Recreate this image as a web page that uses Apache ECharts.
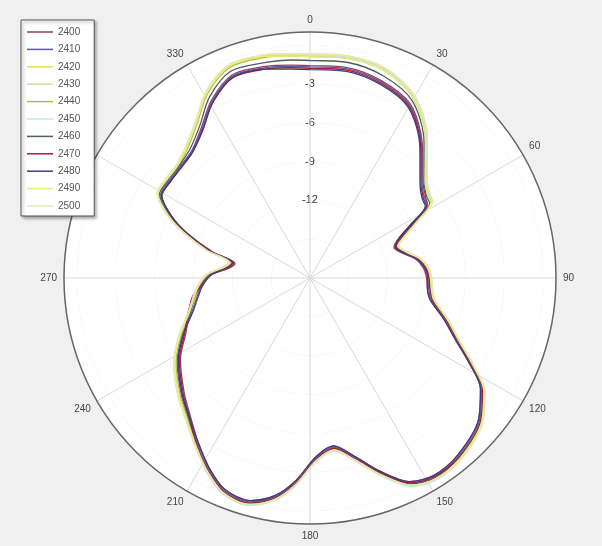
<!DOCTYPE html>
<html><head><meta charset="utf-8">
<script src="https://cdn.jsdelivr.net/npm/echarts@6/dist/echarts.min.js"></script>
<style>html,body{margin:0;padding:0;background:#f0f0f0}#c{width:602px;height:546px}</style>
</head><body><div id="c"></div>
<script>
const ANGLES = [0,10,20,30,40,50,55,58,62,66,70,75,80,85,90,95,100,107,113,118,123,130,140,148,154,160,166,172,178,184,189,195,202,208,214,221,228,238,246,254,260,266,272,277,281,285,290,294,299,305,310,317,324,331,339,348,355,360];
const S2400 = [-1.6,-1.5,-1.8,-2.5,-4.5,-6.6,-7.1,-7.3,-9.1,-10.5,-11.1,-10.6,-9.7,-9.2,-9.0,-8.9,-8.6,-7.2,-5.8,-4.1,-2.3,-1.0,-0.2,0.0,-0.5,-2.1,-3.8,-4.9,-4.2,-2.3,-1.0,-0.2,-0.4,-1.4,-2.6,-3.9,-4.9,-6.2,-7.5,-8.3,-8.7,-9.5,-10.4,-11.7,-12.1,-10.2,-7.9,-6.3,-4.9,-4.9,-4.8,-4.6,-3.7,-2.3,-1.2,-1.3,-1.5,-1.6];
const S2410 = [-1.7,-1.6,-1.9,-2.6,-4.6,-6.7,-7.2,-7.3,-9.0,-10.4,-11.0,-10.5,-9.6,-9.1,-8.9,-8.8,-8.5,-7.1,-5.7,-4.0,-2.2,-0.9,-0.1,0.1,-0.4,-2.0,-3.7,-4.8,-4.1,-2.2,-0.9,-0.1,-0.3,-1.3,-2.5,-3.7,-4.6,-5.9,-7.2,-8.5,-9.1,-9.6,-10.3,-11.5,-11.9,-10.0,-7.8,-6.2,-4.8,-4.8,-4.8,-4.6,-3.8,-2.4,-1.3,-1.4,-1.6,-1.7];
const S2420 = [-0.8,-0.7,-0.9,-1.9,-4.0,-6.3,-6.8,-6.9,-8.6,-10.0,-10.8,-10.3,-9.4,-8.9,-8.7,-8.6,-8.3,-6.9,-5.5,-3.8,-2.0,-0.7,0.1,0.3,-0.2,-1.8,-3.5,-4.6,-3.9,-2.0,-0.7,0.1,-0.1,-1.1,-2.3,-3.5,-4.4,-5.7,-7.0,-8.3,-8.9,-9.4,-10.1,-11.3,-11.7,-9.8,-7.6,-6.0,-4.6,-4.6,-4.6,-4.1,-3.1,-1.6,-0.5,-0.5,-0.7,-0.8];
const S2430 = [-0.7,-0.6,-0.8,-1.8,-3.9,-6.2,-6.7,-6.9,-8.7,-10.1,-10.9,-10.4,-9.5,-9.0,-8.8,-8.7,-8.4,-7.0,-5.6,-3.9,-2.1,-0.8,0.0,0.2,-0.3,-1.9,-3.6,-4.7,-4.0,-2.1,-0.8,0.0,-0.2,-1.2,-2.4,-3.5,-4.3,-5.6,-6.9,-8.2,-8.8,-9.3,-10.0,-11.2,-11.6,-9.7,-7.5,-5.9,-4.5,-4.5,-4.5,-4.0,-3.0,-1.5,-0.4,-0.4,-0.6,-0.7];
const S2440 = [-0.9,-0.8,-1.0,-2.0,-4.1,-6.4,-6.9,-7.0,-8.7,-10.1,-10.8,-10.3,-9.4,-8.9,-8.7,-8.6,-8.3,-6.9,-5.5,-3.8,-2.0,-0.7,0.1,0.3,-0.2,-1.8,-3.5,-4.6,-3.9,-2.0,-0.7,0.1,-0.1,-1.1,-2.3,-3.6,-4.5,-5.8,-7.1,-8.4,-9.0,-9.5,-10.2,-11.4,-11.8,-9.9,-7.7,-6.1,-4.7,-4.7,-4.7,-4.2,-3.2,-1.7,-0.6,-0.6,-0.8,-0.9];
const S2450 = [-0.8,-0.7,-0.9,-1.9,-4.0,-6.3,-6.8,-6.9,-8.5,-9.9,-10.7,-10.2,-9.3,-8.8,-8.6,-8.5,-8.2,-6.8,-5.4,-3.7,-1.9,-0.6,0.2,0.4,-0.1,-1.7,-3.4,-4.5,-3.8,-1.9,-0.6,0.2,0.0,-1.0,-2.2,-3.4,-4.3,-5.6,-6.9,-8.2,-8.8,-9.3,-10.0,-11.2,-11.6,-9.7,-7.5,-5.9,-4.5,-4.5,-4.5,-4.0,-3.0,-1.5,-0.4,-0.4,-0.6,-0.8];
const S2460 = [-1.2,-1.1,-1.4,-2.2,-4.3,-6.5,-7.0,-7.1,-8.8,-10.2,-10.9,-10.4,-9.5,-9.0,-8.8,-8.7,-8.4,-7.0,-5.6,-3.9,-2.1,-0.8,0.0,0.2,-0.3,-1.9,-3.6,-4.7,-4.0,-2.1,-0.8,0.0,-0.2,-1.2,-2.4,-3.7,-4.7,-6.0,-7.3,-8.4,-8.9,-9.5,-10.2,-11.5,-11.9,-10.0,-7.7,-6.1,-4.7,-4.7,-4.7,-4.4,-3.5,-2.0,-0.9,-1.0,-1.1,-1.2];
const S2470 = [-1.8,-1.7,-2.0,-2.7,-4.7,-6.8,-7.3,-7.4,-9.0,-10.3,-10.9,-10.4,-9.5,-9.0,-8.8,-8.7,-8.4,-7.0,-5.6,-3.9,-2.1,-0.8,0.0,0.1,-0.4,-2.0,-3.6,-4.7,-4.0,-2.1,-0.8,0.0,-0.2,-1.2,-2.4,-3.8,-4.8,-6.1,-7.4,-8.2,-8.8,-9.6,-10.4,-11.6,-12.0,-10.1,-7.9,-6.3,-4.9,-4.9,-4.9,-4.7,-3.9,-2.5,-1.4,-1.5,-1.7,-1.8];
const S2480 = [-1.9,-1.8,-2.1,-2.8,-4.8,-6.9,-7.4,-7.5,-9.2,-10.5,-11.0,-10.5,-9.6,-9.1,-8.9,-8.9,-8.6,-7.2,-5.8,-4.1,-2.3,-1.0,-0.2,0.0,-0.5,-2.1,-3.8,-4.9,-4.2,-2.3,-1.0,-0.2,-0.4,-1.4,-2.6,-3.8,-4.7,-6.0,-7.3,-8.6,-9.2,-9.7,-10.4,-11.5,-11.9,-10.0,-7.8,-6.3,-4.9,-4.9,-4.9,-4.7,-3.9,-2.5,-1.4,-1.5,-1.8,-1.9];
const S2490 = [-0.9,-0.8,-1.0,-2.0,-4.1,-6.4,-6.9,-7.0,-8.6,-10.0,-10.8,-10.3,-9.4,-8.9,-8.7,-8.6,-8.3,-6.9,-5.5,-3.8,-2.0,-0.7,0.1,0.3,-0.2,-1.8,-3.5,-4.6,-3.9,-2.0,-0.7,0.1,-0.1,-1.1,-2.3,-3.5,-4.4,-5.7,-7.0,-8.3,-8.9,-9.4,-10.1,-11.3,-11.7,-9.8,-7.6,-6.0,-4.6,-4.6,-4.6,-4.1,-3.1,-1.6,-0.5,-0.5,-0.8,-0.9];
const S2500 = [-0.7,-0.6,-0.8,-1.8,-3.9,-6.2,-6.7,-6.8,-8.5,-9.9,-10.7,-10.2,-9.3,-8.8,-8.6,-8.5,-8.2,-6.8,-5.4,-3.7,-1.9,-0.6,0.2,0.3,-0.2,-1.8,-3.5,-4.6,-3.9,-2.0,-0.7,0.1,-0.1,-1.1,-2.2,-3.4,-4.3,-5.6,-6.9,-8.2,-8.8,-9.3,-10.0,-11.2,-11.6,-9.7,-7.5,-5.9,-4.5,-4.5,-4.5,-4.0,-3.0,-1.5,-0.4,-0.4,-0.6,-0.7];
const NAMES = ['2400','2410','2420','2430','2440','2450','2460','2470','2480','2490','2500'];
const COLORS = ['#a03a5c','#5c5a9c','#e6e63c','#ddd48c','#b6be3e','#c6e6e6','#4e5e5e','#a0203e','#3e3e80','#e4f07e','#efe6ae'];
const SERIES_DATA = [S2400, S2410, S2420, S2430, S2440, S2450, S2460, S2470, S2480, S2490, S2500];
const RADIAL_LABELS = [-3,-6,-9,-12];

const chart = echarts.init(document.getElementById('c'));
chart.setOption({
  backgroundColor: '#f0f0f0',
  animation: false,
  legend: {
    orient: 'vertical', left: 21, top: 20, z: 10,
    padding: [6, 14, 4, 6], icon: 'rect',
    itemWidth: 26, itemHeight: 1.5, itemGap: 5.4, itemTextGap: 7,
    backgroundColor: '#fff', borderColor: '#555', borderWidth: 1,
    shadowColor: 'rgba(0,0,0,0.35)', shadowBlur: 3, shadowOffsetX: 2, shadowOffsetY: 2,
    textStyle: { fontSize: 10, color: '#555', lineHeight: 12, fontFamily: 'Liberation Sans' },
    data: NAMES
  },
  polar: { center: [310, 278], radius: 246 },
  angleAxis: {
    type: 'value', min: 0, max: 360, interval: 30, startAngle: 90, clockwise: true, z: 1,
    axisLine: { show: true, lineStyle: { color: '#666', width: 1.5 } },
    axisTick: { show: false },
    axisLabel: { color: '#444', fontSize: 10, margin: 7, fontFamily: 'Liberation Sans' },
    splitLine: { show: true, lineStyle: { color: '#d9d9d9', width: 1 } }
  },
  radiusAxis: {
    type: 'value', min: -18, max: 1, interval: 3, z: 0,
    axisLine: { show: false }, axisTick: { show: false },
    axisLabel: {
      formatter: v => RADIAL_LABELS.includes(v) ? String(v) : '',
      align: 'center', verticalAlign: 'middle', margin: 0,
      color: '#333', fontSize: 11, fontFamily: 'Liberation Sans'
    },
    splitLine: { show: true, lineStyle: { color: '#d9d9d9', width: 1 } },
    splitArea: { show: true, areaStyle: { color: ['#fff', '#fff'] } }
  },
  series: NAMES.map((n, k) => ({
    name: n, type: 'line', coordinateSystem: 'polar', symbol: 'none', smooth: 0.3, z: 3,
    lineStyle: { color: COLORS[k], width: 1.3 }, itemStyle: { color: COLORS[k] },
    data: ANGLES.map((a, i) => [SERIES_DATA[k][i], a])
  }))
});
</script></body></html>
